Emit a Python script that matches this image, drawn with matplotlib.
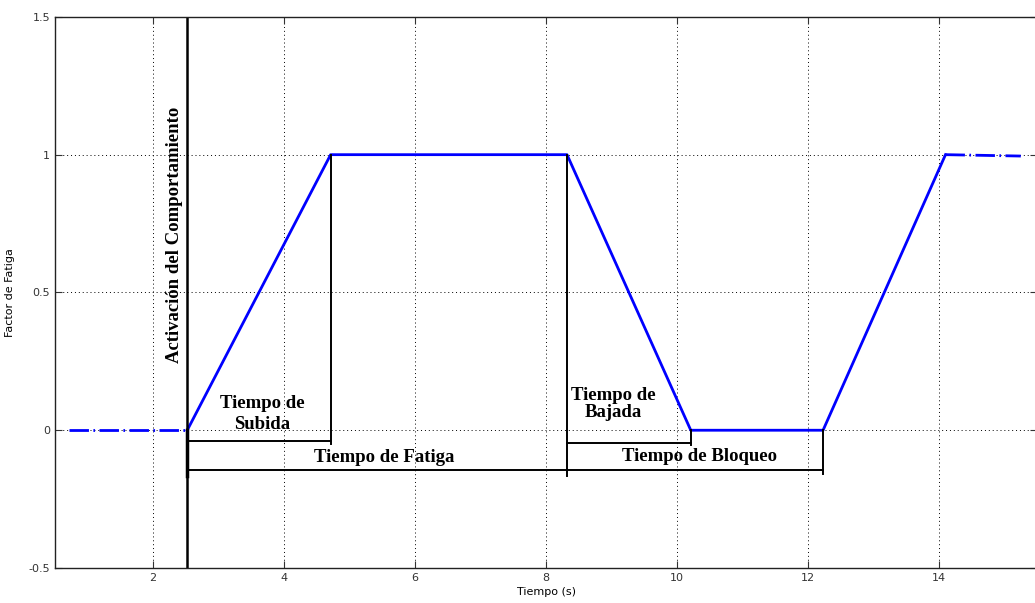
import matplotlib
matplotlib.use("Agg")
import matplotlib.pyplot as plt

# Data
pre_x = [0.72, 2.52]
pre_y = [0.0, 0.0]
main_x = [2.52, 4.71, 8.32, 10.21, 12.23, 14.1]
main_y = [0.0, 1.0, 1.0, 0.0, 0.0, 1.0]
post_x = [14.1, 15.25]
post_y = [1.0, 0.995]

x_ticks = [2, 4, 6, 8, 10, 12, 14]
y_ticks = [-0.5, 0, 0.5, 1, 1.5]

fig = plt.figure(figsize=(10.35, 6.03), dpi=100)
ax = fig.add_axes([0.0531, 0.058, 0.949, 0.914])

dd = (0, (7, 1.6, 0.6, 1.6))
ax.plot(pre_x, pre_y, color='#0000ff', lw=2.0, linestyle=dd)
ax.plot(main_x, main_y, color='#0000ff', lw=2.0)
ax.plot(post_x, post_y, color='#0000ff', lw=2.0, linestyle=dd)

k = dict(color='black', lw=1.4)
# activation line
ax.axvline(2.52, color='black', lw=1.8)
ax.plot([2.52, 2.52], [0, -0.165], color='black', lw=2.5)
# subida bracket
ax.plot([2.52, 4.71], [-0.04, -0.04], **k)
ax.plot([4.71, 4.71], [1.0, -0.05], **k)
# fatiga bracket
ax.plot([2.52, 12.23], [-0.145, -0.145], **k)
ax.plot([8.32, 8.32], [1.0, -0.165], **k)
# bajada bracket
ax.plot([8.32, 10.21], [-0.045, -0.045], **k)
ax.plot([10.21, 10.21], [0, -0.055], **k)
# bloqueo end
ax.plot([12.23, 12.23], [0, -0.16], **k)

tf = dict(family=['Liberation Serif', 'DejaVu Serif'], fontweight='bold', fontsize=13.5, ha='center', va='center')
ax.text(3.66, 0.06, 'Tiempo de\nSubida', linespacing=1.3, **tf)
ax.text(5.53, -0.098, 'Tiempo de Fatiga', **tf)
ax.text(9.02, 0.095, 'Tiempo de\nBajada', linespacing=1.05, **tf)
ax.text(10.35, -0.095, 'Tiempo de Bloqueo', **tf)
ax.text(2.32, 0.71, 'Activación del Comportamiento', rotation=90, **tf)

ax.set_xlim(0.5, 15.5)
ax.set_ylim(-0.5, 1.5)
ax.set_xticks(x_ticks)
ax.set_yticks(y_ticks)
ax.set_yticklabels(['-0.5', '0', '0.5', '1', '1.5'])
ax.grid(True, color='black', linestyle=(0, (1, 3)), lw=0.7)
ax.tick_params(direction='in', top=True, right=True, length=5, labelsize=8, colors='#333333')
for s in ax.spines.values():
    s.set_color('#222222')
    s.set_linewidth(1.0)
ax.set_xlabel('Tiempo (s)', fontsize=8, labelpad=3)
ax.set_ylabel('Factor de Fatiga', fontsize=8)
ax.yaxis.set_label_coords(-0.041, 0.5)

fig.savefig('out.png', dpi=100)
